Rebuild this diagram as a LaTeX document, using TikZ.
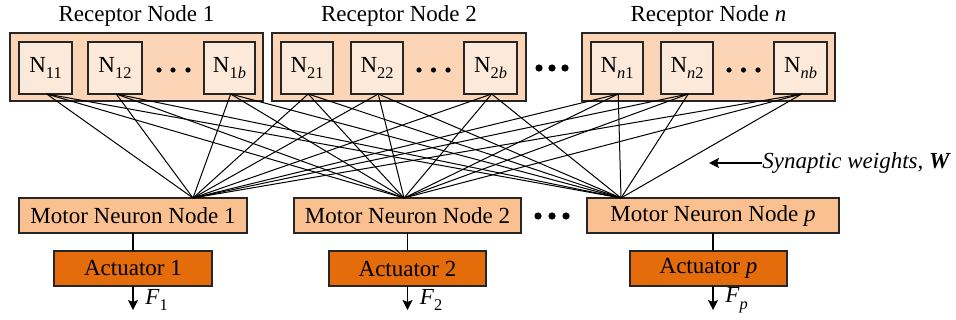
\documentclass[tikz,border=0pt]{standalone}
\usepackage{fontspec}
\setmainfont{Liberation Serif}
\newfontfamily\timesfam{Liberation Serif}
\usetikzlibrary{arrows.meta}
\definecolor{outerfill}{HTML}{FBD5B5}
\definecolor{innerfill}{HTML}{FDE9D9}
\definecolor{motorfill}{HTML}{FAC090}
\definecolor{actfill}{HTML}{E46C0A}
\newcommand\bx[7]{\node[#6, minimum width={(#4-#2)*0.5pt}, minimum height={(#5-#3)*0.5pt}] (#1) at ({(#2+#4)/2},{(#3+#5)/2}) {#7};}
\newcommand\sub[1]{\raisebox{-0.28em}{\fontsize{8.2}{8.2}\selectfont #1}}
\begin{document}
\begin{tikzpicture}[x=0.5pt,y=-0.5pt,
  font=\timesfam\fontsize{11.5}{13}\selectfont,
  basebox/.style={draw=black!85, line width=0.75pt, inner sep=0pt, outer sep=0pt},
  outerbox/.style={basebox, fill=outerfill},
  nbox/.style={basebox, fill=innerfill},
  motorbox/.style={basebox, fill=motorfill},
  actbox/.style={basebox, fill=actfill},
  link/.style={line width=0.5pt, black},
  stem/.style={line width=0.6pt, black},
  outarrow/.style={line width=0.6pt, black, -{Stealth[length=5pt,width=5pt,inset=1pt]}},
  title/.style={inner sep=0pt},
  smalldot/.style={black},
]
\useasboundingbox (0,0) rectangle (956,320);

% receptor groups
\bx{R1}{10}{33}{263}{101}{outerbox}{}
\bx{R2}{272}{33}{526}{101}{outerbox}{}
\bx{Rn}{582}{33}{835}{101}{outerbox}{}
\node[title] (T1) at (136.5,16) {Receptor Node 1};
\node[title] (T2) at (399,16) {Receptor Node 2};
\node[title] (Tn) at (708.5,16) {Receptor Node \textit{n}};

% neuron boxes
\bx{N11}{19}{42}{72}{94}{nbox}{N\sub{11}}
\bx{N12}{88}{42}{142}{94}{nbox}{N\sub{12}}
\bx{N1b}{204}{42}{255}{94}{nbox}{N\sub{1\textit{b}}}
\bx{N21}{281}{42}{333}{94}{nbox}{N\sub{21}}
\bx{N22}{351}{42}{403}{94}{nbox}{N\sub{22}}
\bx{N2b}{464}{42}{517}{94}{nbox}{N\sub{2\textit{b}}}
\bx{Nn1}{591}{42}{643}{94}{nbox}{N\sub{\textit{n}1}}
\bx{Nn2}{661}{42}{713}{94}{nbox}{N\sub{\textit{n}2}}
\bx{Nnb}{774}{42}{827}{94}{nbox}{N\sub{\textit{nb}}}

% dots inside groups
\foreach \x in {159,173,188} {\fill[smalldot] (\x,70) circle[radius=1.3pt];}
\foreach \x in {419,433.5,448} {\fill[smalldot] (\x,70) circle[radius=1.3pt];}
\foreach \x in {729,743.5,758} {\fill[smalldot] (\x,70) circle[radius=1.3pt];}
% dots between groups
\foreach \x in {539,552,565} {\fill[smalldot] (\x,68) circle[radius=1.8pt];}

% motor neuron nodes
\bx{M1}{19}{198}{247}{233}{motorbox}{Motor Neuron Node 1}
\bx{M2}{294}{198}{521}{233}{motorbox}{Motor Neuron Node 2}
\bx{Mp}{587}{198}{839}{233}{motorbox}{Motor Neuron Node \textit{p}}
\foreach \x in {538,552,566} {\fill[smalldot] (\x,216) circle[radius=1.8pt];}

% actuators
\bx{A1}{54}{251}{212}{286}{actbox}{Actuator 1}
\bx{A2}{329}{251}{486}{286}{actbox}{Actuator 2}
\bx{Ap}{630}{251}{787}{286}{actbox}{Actuator \textit{p}}

% connection points on motor neurons
\coordinate (c1) at (193,198);
\coordinate (c2) at (404,198);
\coordinate (cp) at (621,198);

% synaptic links
\foreach \n in {N11,N12,N1b,N21,N22,N2b,Nn1,Nn2,Nnb} {
  \foreach \c in {c1,c2,cp} {
    \draw[link] ([xshift=0.6pt]\n.south) -- (\c);
  }
}

% motor -> actuator
\foreach \m/\a in {M1/A1,M2/A2,Mp/Ap} {
  \draw[stem] (\m.south) -- (\m.south |- \a.north);
}
\coordinate (f1) at (133,310);
\coordinate (f2) at (407.5,310);
\coordinate (fp) at (713,310);
\draw[outarrow] (M1.south |- A1.south) -- (f1);
\draw[outarrow] (M2.south |- A2.south) -- (f2);
\draw[outarrow] (Mp.south |- Ap.south) -- (fp);
\node[anchor=west, inner sep=0pt] (F1) at (145,300) {\textit{F}\sub{1}};
\node[anchor=west, inner sep=0pt] (F2) at (419.5,300) {\textit{F}\sub{2}};
\node[anchor=west, inner sep=0pt] (Fp) at (725,300) {\textit{F}\sub{\textit{p}}};

% synaptic weights label
\node[anchor=west, inner sep=0pt] (SW) at (762,163) {\textit{Synaptic weights, \textbf{W}}};
\coordinate (swtip) at (709,163);
\draw[outarrow] (SW.west) -- (swtip);
\end{tikzpicture}
\end{document}
